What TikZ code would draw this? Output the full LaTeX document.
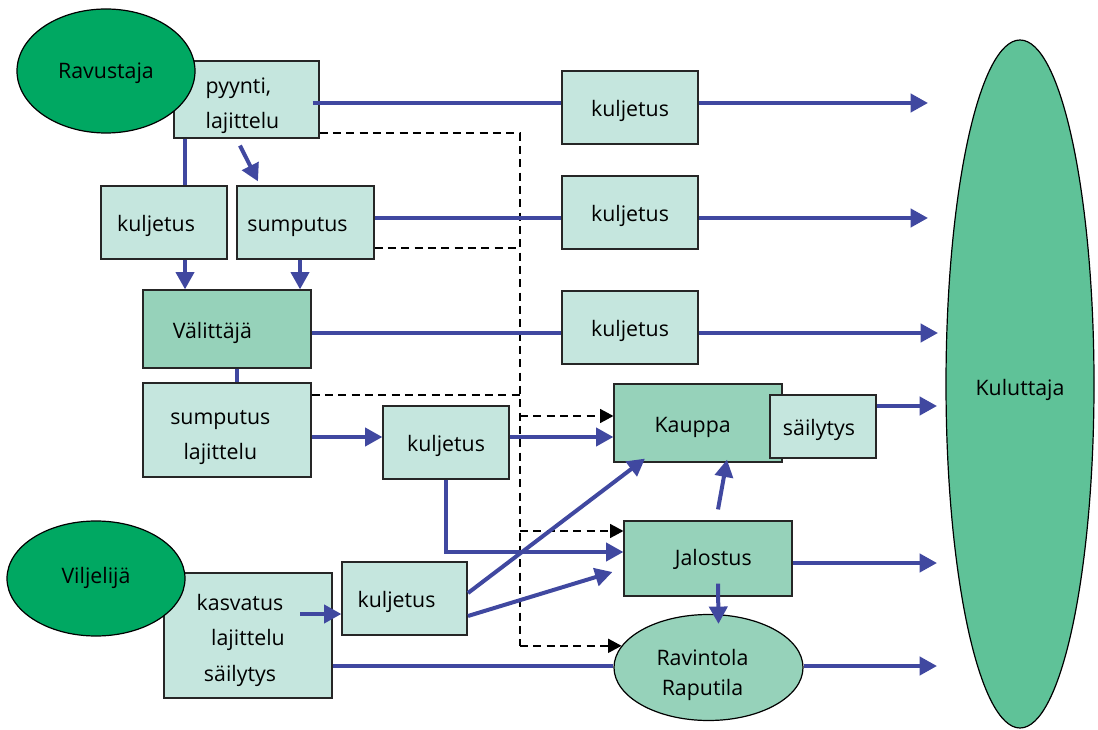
\documentclass[tikz,border=0pt]{standalone}
\usepackage{fontspec}
\setmainfont{Open Sans}
\usetikzlibrary{arrows.meta,shapes.geometric,calc}
\definecolor{light}{RGB}{197,230,222}
\definecolor{medium}{RGB}{150,210,186}
\definecolor{dgreen}{RGB}{0,168,98}
\definecolor{kgreen}{RGB}{95,194,152}
\definecolor{fblue}{RGB}{64,72,160}
\tikzset{
  sz/.style 2 args={minimum width=#1*0.75pt, minimum height=#2*0.75pt},
  one/.style={text height=#1, text depth=0pt},
  box/.style={draw=black!85, line width=0.9pt, fill=light, rectangle, inner sep=0pt, font=\fontsize{16}{26}\selectfont, align=center},
  mbox/.style={box, fill=medium},
  ell/.style={draw=black, line width=0.9pt, ellipse, inner sep=0pt, font=\fontsize{16}{22}\selectfont, align=center},
  flow/.style={draw=fblue, line width=3pt, -{Triangle[length=13pt,width=13.5pt]}},
  flowline/.style={draw=fblue, line width=3pt},
  dline/.style={draw=black, line width=1.1pt, dash pattern=on 6pt off 4pt},
  darrow/.style={dline, -{Triangle[length=10pt,width=10.5pt]}},
}
\begin{document}
\begin{tikzpicture}[x=0.75pt,y=-0.75pt]
\useasboundingbox (0,0) rectangle (1098,730);
% boxes
\node[box, sz={145}{77}, align=left, one=42.8pt, font=\fontsize{16}{26.2}\selectfont] (pyynti) at (246.5,99.5) {pyynti,\\lajittelu\hspace*{6pt}};
\node[box, sz={126}{73}, one=14pt] (kulL) at (164,222.5) {kuljetus\hspace*{12pt}};
\node[box, sz={137}{73}, one=14pt] (sump) at (305.5,222.5) {sumputus\hspace*{12pt}};
\node[mbox, sz={168}{78}, one=14pt] (valit) at (227,329) {Välittäjä\hspace*{22pt}};
\node[box, sz={168}{94}, one=43.5pt, font=\fontsize{16}{26.2}\selectfont] (sumlaj) at (227,430) {sumputus\hspace*{10pt}\\lajittelu\hspace*{10pt}};
\node[box, sz={126}{73}, one=14pt] (kulM) at (446,442.5) {kuljetus};
\node[box, sz={125}{73}, one=14pt] (kulB) at (404.5,598.5) {kuljetus\hspace*{12pt}};
\node[box, sz={168}{125}, one=68.3pt, font=\fontsize{16}{26.6}\selectfont] (kasv) at (248,635.5) {kasvatus\hspace*{12pt}\\lajittelu\hspace*{12pt}\\säilytys\hspace*{12pt}};
\node[box, sz={136}{73}, one=14pt] (k1) at (630,107.5) {kuljetus};
\node[box, sz={136}{73}, one=14pt] (k2) at (630,212.5) {kuljetus};
\node[box, sz={136}{73}, one=14pt] (k3) at (630,327.5) {kuljetus};
\node[mbox, sz={168}{78}, one=14pt] (kauppa) at (698,423) {Kauppa\hspace*{8pt}};
\node[box, sz={106}{63}, one=14pt] (sail) at (823,426.5) {säilytys\hspace*{6pt}};
\node[mbox, sz={168}{75}, one=10pt] (jal) at (708,558.5) {\hspace*{8pt}Jalostus};
% ellipses
\node[ell, fill=dgreen, sz={178}{124}, one=12pt] (ravus) at (106,71) {Ravustaja};
\node[ell, fill=dgreen, sz={178}{115}, one=8pt] (vilj) at (96,578.5) {Viljelijä};
\node[ell, fill=medium, sz={189}{106}, one=41.3pt, font=\fontsize{16}{22.5}\selectfont] (rav) at (708.5,667.5) {Ravintola\hspace*{9pt}\\Raputila\hspace*{9pt}};
\node[ell, fill=kgreen, sz={148}{688}, one=17pt] (kulu) at (1020,384) {Kuluttaja};
% helper coordinates
\coordinate (e1) at (928,103);
\coordinate (e2) at (928,218);
\coordinate (e3) at (938,333);
\coordinate (e4) at (937,406);
\coordinate (e5) at (937,563);
\coordinate (e6) at (937,666);
\coordinate (xA) at (185,0);
\coordinate (xB) at (300,0);
\coordinate (xC) at (237,0);
\coordinate (yM) at (0,437);
\coordinate (xD) at (520,0);
\coordinate (bend) at (446,552);
\coordinate (ks) at (300,614);
\coordinate (kb1) at (468,593);
\coordinate (kb2) at (468,616);
% dashed lines
\draw[dline] (pyynti.east |- 0,133) -- (xD |- 0,133) -- (xD |- rav.166);
\draw[dline] (sump.east |- 0,248) -- (xD |- 0,248);
\draw[dline] (sumlaj.east |- 0,395) -- (xD |- 0,395);
\draw[darrow] (xD |- 0,416) -- (kauppa.west |- 0,416);
\draw[darrow] (xD |- 0,531) -- (jal.west |- 0,531);
\draw[darrow] (xD |- rav.166) -- (rav.166);
% blue flows
\draw[flowline] ($(pyynti.east)+(-7,3.5)$) -- (k1.west |- e1);
\draw[flow] (k1.east |- e1) -- (e1);
\draw[flowline] (sump.east |- e2) -- (k2.west |- e2);
\draw[flow] (k2.east |- e2) -- (e2);
\draw[flowline] (valit.east |- e3) -- (k3.west |- e3);
\draw[flow] (k3.east |- e3) -- (e3);
\draw[flowline] (pyynti.south -| xA) -- (kulL.north -| xA);
\draw[flow] ($(pyynti.south)+(-6.5,7)$) -- ($(sump.north)+(-47.5,-4)$);
\draw[flow] (kulL.south -| xA) -- (valit.north -| xA);
\draw[flow] (sump.south -| xB) -- (valit.north -| xB);
\draw[flowline] (valit.south -| xC) -- (sumlaj.north -| xC);
\draw[flow] (sumlaj.east |- yM) -- (kulM.west |- yM);
\draw[flow] (kulM.east |- yM) -- (kauppa.west |- yM);
\draw[flow] (kulM.south -| bend) -- (bend) -- (jal.west |- bend);
\draw[flow] (kb1) -- ($(kauppa.south)+(-53,-4)$);
\draw[flow] (kb2) -- ($(jal.west)+(-11,13.5)$);
\draw[flow] (ks) -- (kulB.west |- ks);
\draw[flowline] (kasv.east |- e6) -- (rav.west |- e6);
\draw[flow] (rav.east |- e6) -- (e6);
\draw[flow] ($(jal.north)+(10,-11)$) -- ($(kauppa.south)+(29,-3)$);
\draw[flow] ($(jal.south)+(10,-13)$) -- ($(rav.north)+(10,10)$);
\draw[flow] (sail.east |- e4) -- (e4);
\draw[flow] (jal.east |- e5) -- (e5);
\end{tikzpicture}
\end{document}
